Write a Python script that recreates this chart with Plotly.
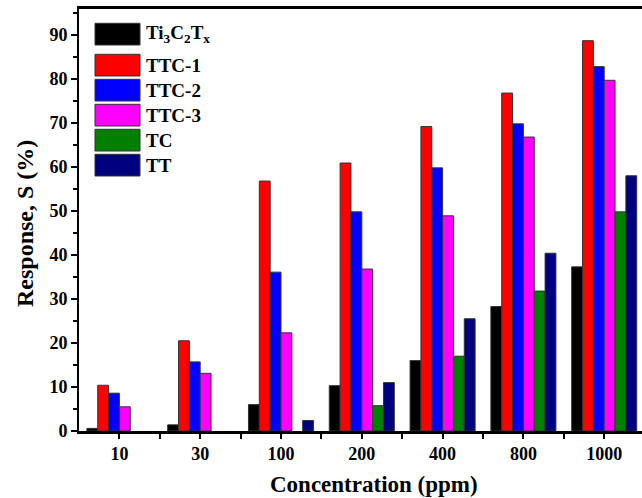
import plotly.graph_objects as go

categories = ["10", "30", "100", "200", "400", "800", "1000"]
series_names = ["Ti<sub>3</sub>C<sub>2</sub>T<sub>x</sub>", "TTC-1", "TTC-2", "TTC-3", "TC", "TT"]
colors = ["#000000", "#FF0000", "#0000FF", "#FF00FF", "#008000", "#000080"]

ti3c2tx = [0.6, 1.4, 6.0, 10.3, 16.0, 28.3, 37.3]
ttc1 = [10.4, 20.5, 56.8, 60.9, 69.2, 76.8, 88.7]
ttc2 = [8.6, 15.7, 36.1, 49.8, 59.8, 69.8, 82.8]
ttc3 = [5.5, 13.1, 22.3, 36.8, 48.9, 66.8, 79.7]
tc = [None, None, None, 5.75, 17.0, 31.8, 49.8]
tt = [None, None, 2.4, 11.0, 25.5, 40.4, 58.0]
values = [ti3c2tx, ttc1, ttc2, ttc3, tc, tt]

W, H = 642, 498
L, R, T, B = 79, 0, 9, 67
pw, ph = W - L - R, H - T - B

font = "Liberation Serif"
xpos = list(range(len(categories)))

fig = go.Figure()
for name, col, vals in zip(series_names, colors, values):
    fig.add_trace(go.Bar(x=xpos, y=vals, name=name, marker=dict(color=col, line=dict(color="#333333", width=1)),
                         showlegend=False))

def px_to_paper(x, y):
    return (x - L) / pw, (H - B - y) / ph

# legend drawn as shapes + annotations
box_tops = [23.3, 54.3, 79.3, 104.3, 129.3, 154.3]
shapes = []
annotations = []
for i, (name, col) in enumerate(zip(series_names, colors)):
    y0p, y1p = box_tops[i], box_tops[i] + 21.7
    x0, ya = px_to_paper(95, y1p)
    x1, yb = px_to_paper(140, y0p)
    shapes.append(dict(type="rect", xref="paper", yref="paper", x0=x0, x1=x1, y0=ya, y1=yb,
                       fillcolor=col, line=dict(color="#333333", width=1)))
    tx, ty = px_to_paper(144, (y0p + y1p) / 2)
    annotations.append(dict(xref="paper", yref="paper", x=tx, y=ty, xanchor="left", yanchor="middle",
                            text="<b>" + name + "</b>", showarrow=False,
                            font=dict(family=font, size=19, color="black")))

# axis titles
ax, ay = px_to_paper(374, 484)
annotations.append(dict(xref="paper", yref="paper", x=ax, y=ay, xanchor="center", yanchor="middle",
                        text="<b>Concentration (ppm)</b>", showarrow=False,
                        font=dict(family=font, size=23, color="black")))
bx, by = px_to_paper(25, 224)
annotations.append(dict(xref="paper", yref="paper", x=bx, y=by, xanchor="center", yanchor="middle",
                        text="<b>Response, S (%)</b>", showarrow=False, textangle=-90,
                        font=dict(family=font, size=24, color="black")))

fig.update_layout(
    width=W, height=H,
    margin=dict(l=L, r=R, t=T, b=B, pad=0),
    paper_bgcolor="white", plot_bgcolor="white",
    barmode="group", bargap=0.195, bargroupgap=0,
    shapes=shapes, annotations=annotations,
    font=dict(family=font, color="black"),
    xaxis=dict(range=[-0.5, -0.5 + pw / 80.8], tickmode="array", tickvals=xpos,
               ticktext=["<b>" + c + "</b>" for c in categories],
               showline=True, linecolor="black", linewidth=2.5, mirror=True,
               ticks="outside", ticklen=5, tickwidth=2, tickcolor="black",
               minor=dict(tickmode="array", tickvals=[i + 0.5 for i in xpos], ticks="outside",
                          ticklen=5, tickwidth=2, tickcolor="black"),
               tickfont=dict(family=font, size=18, color="black"), showgrid=False, zeroline=False),
    yaxis=dict(range=[0, 95.9], tickmode="linear", tick0=0, dtick=10,
               showline=True, linecolor="black", linewidth=2, mirror=False,
               ticks="outside", ticklen=6, tickwidth=2, tickcolor="black",
               minor=dict(dtick=5, ticks="outside", ticklen=4, tickwidth=1.5, tickcolor="black"),
               tickfont=dict(family=font, size=18, color="black"), tickprefix="<b>", ticksuffix="</b>",
               showgrid=False, zeroline=False),
)

fig.write_html("out.html")
